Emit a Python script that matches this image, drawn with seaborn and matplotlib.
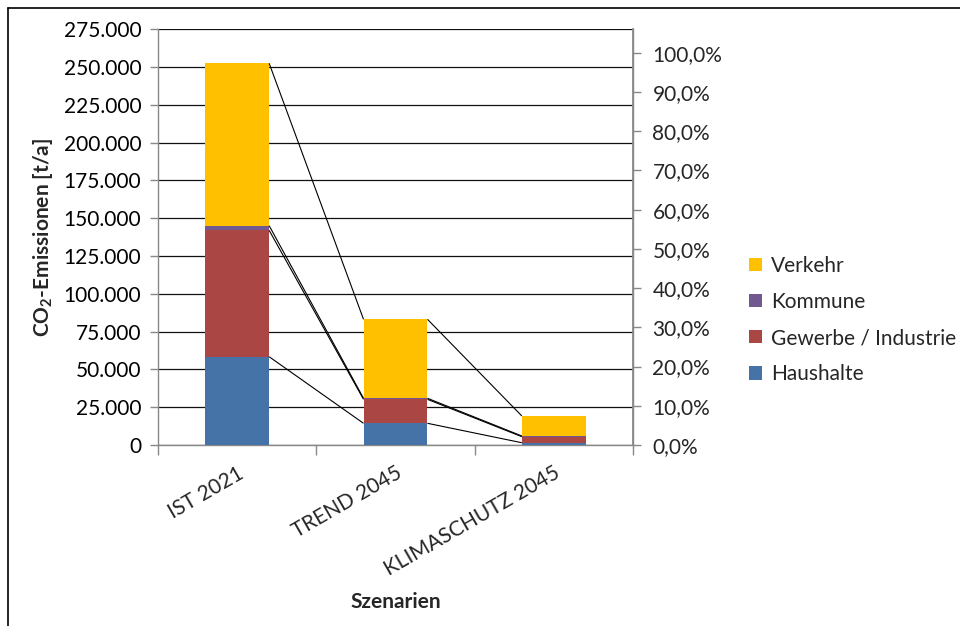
import matplotlib
matplotlib.use("Agg")
import matplotlib.pyplot as plt
from matplotlib.patches import Patch
from matplotlib.lines import Line2D
from matplotlib.ticker import FuncFormatter, MultipleLocator
import numpy as np
import pandas as pd
import seaborn as sns

# Scenario data (t CO2 per year)
scenarios = ["IST 2021", "TREND 2045", "KLIMASCHUTZ 2045"]
sectors = ["Haushalte", "Gewerbe / Industrie", "Kommune", "Verkehr"]
haushalte = [58400, 14350, 1500]
gewerbe = [83600, 15850, 4000]
kommune = [3100, 700, 450]
verkehr = [107400, 52250, 13250]
colors = {"Haushalte": "#4572A7", "Gewerbe / Industrie": "#AA4643",
          "Kommune": "#71588F", "Verkehr": "#FFC000"}
left_ticks = list(range(0, 275001, 25000))
right_ticks = [i / 10 for i in range(11)]

sns.set_theme(style="white")
plt.rcParams["font.family"] = ["Lato", "DejaVu Sans"]
plt.rcParams["mathtext.fontset"] = "custom"
plt.rcParams["mathtext.rm"] = "Lato"
plt.rcParams["mathtext.bf"] = "Lato:bold"

FS = 15

series = {"Haushalte": haushalte, "Gewerbe / Industrie": gewerbe,
          "Kommune": kommune, "Verkehr": verkehr}
cum = np.cumsum(np.array([series[s] for s in sectors]), axis=0)

fig = plt.figure(figsize=(9.6, 6.26), dpi=100)
ax = fig.add_axes([158 / 960, 1 - 445 / 626, (633 - 158) / 960, (445 - 29.3) / 626])

W = 0.404
# Stacked bars: draw cumulative totals from the top segment down
for k in range(len(sectors) - 1, -1, -1):
    df = pd.DataFrame({"Szenario": scenarios, "wert": cum[k]})
    sns.barplot(data=df, x="Szenario", y="wert", color=colors[sectors[k]],
                saturation=1, width=W, ax=ax, edgecolor="none", zorder=3)

# Series lines between neighbouring bars
for k in range(len(sectors)):
    for i in range(len(scenarios) - 1):
        ax.plot([i + W / 2, i + 1 - W / 2], [cum[k][i], cum[k][i + 1]],
                color="black", lw=0.8, zorder=4, solid_capstyle="butt")

ax.set_xlim(-0.5, len(scenarios) - 0.5)
ax.set_ylim(0, 275000)
ax.set_yticks(left_ticks)
ax.yaxis.set_major_formatter(FuncFormatter(lambda v, p: f"{int(v):,}".replace(",", ".")))
ax.grid(axis="y", color="#111111", lw=0.9, zorder=0)
ax.set_axisbelow(True)

for s in ["left", "bottom", "right"]:
    ax.spines[s].set_color("#888888")
    ax.spines[s].set_linewidth(1.0)
ax.spines["top"].set_visible(False)

ax.tick_params(axis="y", which="both", left=True, length=6, width=1, color="#888888",
               labelsize=FS, pad=6, labelcolor="black")
ax.set_xticks(range(len(scenarios)))
ax.set_xticklabels(scenarios, rotation=30, ha="right", va="top",
                   rotation_mode="anchor", fontsize=FS)
ax.tick_params(axis="x", which="major", length=0, pad=13)
ax.xaxis.set_minor_locator(MultipleLocator(1, offset=0.5))
ax.tick_params(axis="x", which="minor", bottom=True, length=7, width=1, color="#888888")

ax.set_xlabel("Szenarien", fontsize=FS, fontweight="bold", labelpad=9)
ax.set_ylabel(r"CO$_\mathbf{2}$-Emissionen [t/a]", fontsize=FS, fontweight="bold", labelpad=6)

# Secondary axis with percentages
ax2 = ax.twinx()
ax2.set_ylim(0, 1.0597)
ax2.set_yticks(right_ticks)
ax2.yaxis.set_major_formatter(FuncFormatter(lambda v, p: f"{v * 100:.1f}%".replace(".", ",")))
ax2.tick_params(axis="y", right=True, length=6, width=1, color="#888888", labelsize=FS, pad=8)
for s in ["left", "bottom", "top"]:
    ax2.spines[s].set_visible(False)
ax2.spines["right"].set_color("#888888")
ax2.grid(False)

handles = [Patch(facecolor=colors[s], edgecolor="none", label=s) for s in reversed(sectors)]
fig.legend(handles=handles, loc="center left", bbox_to_anchor=(741 / 960, 1 - 320 / 626),
           frameon=False, fontsize=FS, handlelength=0.6, handleheight=0.6,
           handletextpad=0.45, labelspacing=0.78, borderaxespad=0)

# Chart frame
fig.add_artist(Line2D([8 / 960, 8 / 960], [0, 1 - 8 / 626], color="black", lw=1.2))
fig.add_artist(Line2D([8 / 960, 1], [1 - 8 / 626, 1 - 8 / 626], color="black", lw=1.2))

fig.savefig("out.png", dpi=100, facecolor="white")
